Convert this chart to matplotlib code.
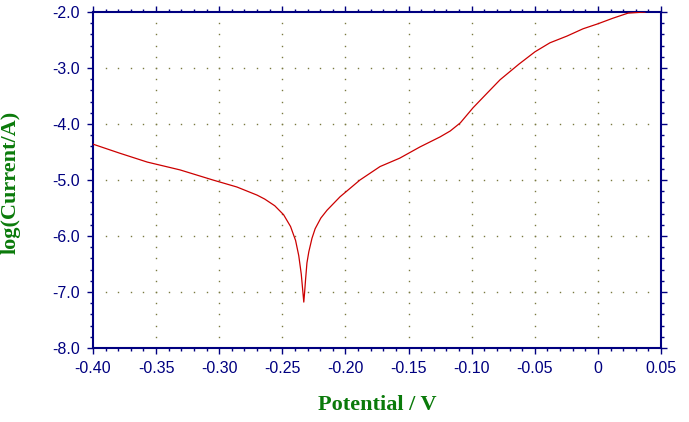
import numpy as np
import matplotlib.pyplot as plt
from matplotlib.ticker import MultipleLocator, FixedLocator

# Tafel scan, potential (V) vs log(current / A)
potential = [-0.400, -0.379, -0.357, -0.331, -0.305, -0.286, -0.270, -0.264,
             -0.256, -0.249, -0.2435, -0.2395, -0.2370, -0.2350, -0.2338,
             -0.2330, -0.2324, -0.2316, -0.2305, -0.229, -0.2265, -0.224,
             -0.2195, -0.2146, -0.2043, -0.1885,
             -0.1726, -0.157, -0.141, -0.125, -0.117, -0.109, -0.0989,
             -0.0878, -0.0775, -0.0625, -0.0498, -0.038, -0.0245, -0.0118,
             0.0001, 0.012, 0.0239, 0.0373]
log_current = [-4.36, -4.52, -4.68, -4.82, -5.00, -5.125, -5.27, -5.34,
               -5.46, -5.62, -5.83, -6.08, -6.35, -6.68, -6.98,
               -7.18, -7.02, -6.78, -6.48, -6.28, -6.04, -5.87,
               -5.68, -5.54, -5.30, -5.00,
               -4.76, -4.61, -4.41, -4.23, -4.125, -3.98, -3.71,
               -3.45, -3.21, -2.93, -2.71, -2.55, -2.43, -2.30,
               -2.21, -2.11, -2.02, -2.00]

x_ticks = [-0.40, -0.35, -0.30, -0.25, -0.20, -0.15, -0.10, -0.05, 0.0, 0.05]
x_labels = ['-0.40', '-0.35', '-0.30', '-0.25', '-0.20', '-0.15', '-0.10', '-0.05', '0', '0.05']
y_ticks = [-8, -7, -6, -5, -4, -3, -2]
y_labels = ['-8.0', '-7.0', '-6.0', '-5.0', '-4.0', '-3.0', '-2.0']

navy = '#000080'
green = '#0a7a0a'
dot_color = '#7a7a40'

fig = plt.figure(figsize=(6.89, 4.22), dpi=100)
ax = fig.add_axes([93 / 689, 74 / 422, 568 / 689, 336 / 422])

# dotted grid: dots at minor positions along the major lines
x_minor = np.round(np.arange(-0.40, 0.0501, 0.01), 4)
y_minor = np.round(np.arange(-8.0, -1.99, 0.2), 4)
for yv in y_ticks[1:-1]:
    ax.plot(x_minor[1:-1], np.full(len(x_minor) - 2, yv), ls='none', marker='s',
            ms=1.0, mew=0, color=dot_color, zorder=1)
for xv in x_ticks[1:-1]:
    ax.plot(np.full(len(y_minor) - 2, xv), y_minor[1:-1], ls='none', marker='s',
            ms=1.0, mew=0, color=dot_color, zorder=1)

ax.plot(potential, log_current, color='#cc0000', lw=0.9, zorder=3)

ax.set_xlim(-0.40, 0.05)
ax.set_ylim(-8.0, -2.0)
ax.xaxis.set_major_locator(FixedLocator(x_ticks))
ax.set_xticklabels(x_labels)
ax.yaxis.set_major_locator(FixedLocator(y_ticks))
ax.set_yticklabels(y_labels)
ax.xaxis.set_minor_locator(MultipleLocator(0.01))
ax.yaxis.set_minor_locator(MultipleLocator(0.2))

for s in ax.spines.values():
    s.set_color(navy)
    s.set_linewidth(1.5)

ax.tick_params(which='both', direction='out', top=True, right=True,
               color=navy, width=1.0)
ax.tick_params(which='major', length=4.5, pad=5, labelsize=11.5,
               labelcolor=navy)
ax.tick_params(which='minor', length=2.2)
for lab in ax.get_xticklabels() + ax.get_yticklabels():
    lab.set_family('Liberation Sans')

fig.text(377 / 689, 1 - 405 / 422, 'Potential / V', ha='center', va='center',
         family='Liberation Serif', fontweight='bold', fontsize=16, color=green)
fig.text(11 / 689, 1 - 182 / 422, 'log(Current/A)', ha='center', va='center',
         rotation=90, family='Liberation Serif', fontweight='bold',
         fontsize=16, color=green)

fig.savefig('out.png', dpi=100)
